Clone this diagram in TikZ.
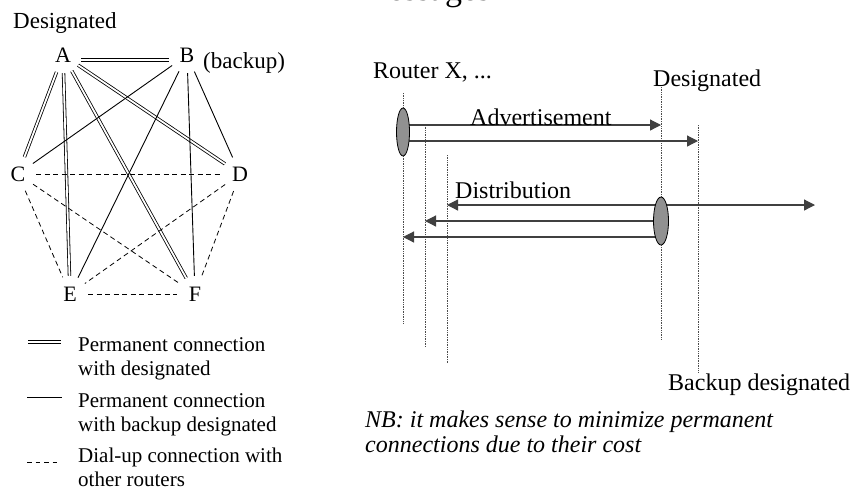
\documentclass[tikz,border=0pt]{standalone}
\usepackage{fontspec}
\setmainfont{Liberation Serif}
\usetikzlibrary{arrows.meta,shapes.geometric}
\pgfdeclarelayer{bg}
\pgfsetlayers{bg,main}

\begin{document}
\begin{tikzpicture}[x=1pt,y=-1pt,
  lbl/.style={inner sep=0pt, font=\fontsize{23}{25}\selectfont},
  router/.style={circle, inner sep=0pt, minimum size=36pt, font=\fontsize{22}{24}\selectfont},
  desig/.style={double=white, double distance=1.8pt, line width=0.8pt},
  bkp/.style={line width=0.9pt},
  dial/.style={line width=0.8pt, dash pattern=on 5pt off 3.5pt},
  life/.style={line width=0.7pt, densely dotted, black!70},
  tip/.style={Triangle[length=11pt,width=11pt]},
  msg/.style={line width=1.2pt, black!75, -{Triangle[length=11pt,width=11pt]}},
  proc/.style={ellipse, draw, line width=0.8pt, fill=black!43, inner sep=0pt,
               minimum width=13pt, minimum height=48pt},
  legend/.style={anchor=base west, inner sep=0pt, font=\fontsize{21}{24}\selectfont},
  big/.style={anchor=base west, inner sep=0pt, font=\fontsize{24}{26}\selectfont},
  note/.style={anchor=base west, inner sep=0pt, font=\fontsize{24}{25}\selectfont\itshape},
]
\useasboundingbox (0,0) rectangle (853,491);
\clip (0,0) rectangle (853,491);

% heading, mostly above the frame
\node[anchor=base west, inner sep=0pt, font=\fontsize{34}{36}\selectfont] (ttl) at (358,0.8) {Messages};

% ---------------- routers and their links ----------------
\node[lbl, anchor=base west] (dlab) at (13,28) {Designated};
\node[router] (A) at (63,55) {A};
\node[router] (B) at (187,55) {B};
\node[lbl, anchor=base west] (blab) at (203,68) {(backup)};
\node[router] (C) at (18,174) {C};
\node[router] (D) at (240,174) {D};
\node[router] (E) at (70,294) {E};
\node[router] (F) at (195,294) {F};

% permanent links to the designated router
\draw[desig] ([yshift=-5pt]A.east) -- ([yshift=-5pt]B.west);
\draw[desig] (A) -- (C);
\draw[desig] (A) -- (D);
\draw[desig] (A) -- (E);
\draw[desig] (A) -- (F);
% permanent links to the backup router
\draw[bkp] (B) -- (C);
\draw[bkp] (B) -- (D);
\draw[bkp] (B) -- (E);
\draw[bkp] (B) -- (F);
% dial-up links
\draw[dial] (C) -- (D);
\draw[dial] (C) -- (E);
\draw[dial] (C) -- (F);
\draw[dial] (D) -- (E);
\draw[dial] (D) -- (F);
\draw[dial] (E) -- (F);

% ---------------- legend ----------------
\coordinate (k1a) at (28,342); \coordinate (k1b) at (61,342);
\coordinate (k2a) at (27,397); \coordinate (k2b) at (62,397);
\coordinate (k3a) at (27,462); \coordinate (k3b) at (58,462);
\draw[desig] (k1a) -- (k1b);
\draw[bkp, line width=0.8pt] (k2a) -- (k2b);
\draw[dial, line width=0.7pt, dash pattern=on 4.5pt off 4pt] (k3a) -- (k3b);
\node[legend] (t1a) at (78,351) {Permanent connection};
\node[legend] (t1b) at (78,375) {with designated};
\node[legend] (t2a) at (78,407) {Permanent connection};
\node[legend] (t2b) at (78,431) {with backup designated};
\node[legend] (t3a) at (78,462) {Dial-up connection with};
\node[legend] (t3b) at (78,486) {other routers};

% ---------------- message sequence ----------------
\node[big] (rxl) at (373,78) {Router X, ...};
\node[big] (dsl) at (653,86) {Designated};
\node[big] (bkl) at (668,390) {Backup designated};

\coordinate (L1t) at (403,93);  \coordinate (L1b) at (403,323);
\coordinate (L2t) at (425,125); \coordinate (L2b) at (425,347);
\coordinate (L3t) at (447,155); \coordinate (L3b) at (447,363);
\coordinate (L4t) at (661,87);  \coordinate (L4b) at (661,340);
\coordinate (L5t) at (698,125); \coordinate (L5b) at (698,372);

\node[proc] (rx) at (403,132) {};
\node[proc, minimum width=15pt] (ds) at (661,221) {};

\coordinate (r1) at (0,125);
\coordinate (r2) at (0,141);
\coordinate (r3) at (0,205);
\coordinate (r4) at (0,221);
\coordinate (r5) at (0,237);
\coordinate (far) at (815,205);

\begin{pgfonlayer}{bg}
  \draw[life] (L1t) -- (L1b);
  \draw[life] (L2t) -- (L2b);
  \draw[life] (L3t) -- (L3b);
  \draw[life] (L4t) -- (L4b);
  \draw[life] (L5t) -- (L5b);
  % advertisement to designated and backup
  \draw[msg] (rx |- r1) -- (L4t |- r1);
  \draw[msg] (rx |- r2) -- (L5t |- r2);
  % distribution from the designated router
  \draw[msg, {Triangle[length=11pt,width=11pt]}-{Triangle[length=11pt,width=11pt]}] (L3t |- r3) -- (far);
  \draw[msg] (ds |- r4) -- (L2t |- r4);
  \draw[msg] (ds |- r5) -- (L1t |- r5);
\end{pgfonlayer}

\node[big] (adv) at (470,125) {Advertisement};
\node[big] (dst) at (455,198) {Distribution};

\node[note] (nb1) at (365,427) {NB: it makes sense to minimize permanent};
\node[note] (nb2) at (365,452) {connections due to their cost};
\end{tikzpicture}
\end{document}
